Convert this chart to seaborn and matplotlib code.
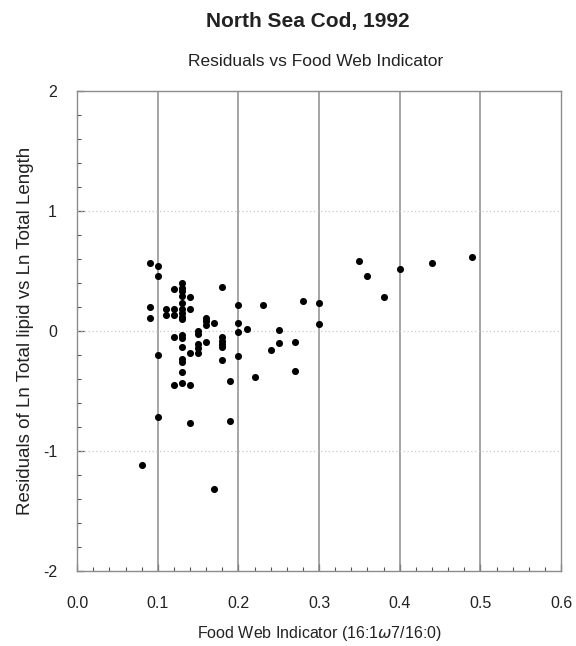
import numpy as np
import pandas as pd
import matplotlib
matplotlib.use("Agg")
import matplotlib.pyplot as plt
from matplotlib.ticker import MultipleLocator
import seaborn as sns

# values
fwi = [0.08, 0.09, 0.09, 0.09,
       0.10, 0.10, 0.10, 0.10,
       0.11, 0.11,
       0.12, 0.12, 0.12, 0.12, 0.12,
       0.13, 0.13, 0.13, 0.13, 0.13, 0.13, 0.13, 0.13, 0.13, 0.13,
       0.13, 0.13, 0.13, 0.13, 0.13, 0.13,
       0.14, 0.14, 0.14, 0.14, 0.14,
       0.15, 0.15, 0.15, 0.15, 0.15,
       0.16, 0.16, 0.16, 0.16,
       0.17, 0.17,
       0.18, 0.18, 0.18, 0.18, 0.18, 0.18,
       0.19, 0.19,
       0.20, 0.20, 0.20, 0.20,
       0.21, 0.22, 0.23, 0.24, 0.25, 0.25, 0.27, 0.27, 0.28,
       0.30, 0.30,
       0.35, 0.36, 0.38, 0.40, 0.44, 0.49]
resid = [-1.12, 0.57, 0.20, 0.11,
         0.54, 0.46, -0.20, -0.72,
         0.185, 0.13,
         0.35, 0.185, 0.13, -0.05, -0.45,
         0.40, 0.36, 0.33, 0.29, 0.235, 0.185, 0.15, 0.12, 0.10, -0.03,
         -0.06, -0.135, -0.23, -0.26, -0.34, -0.43,
         0.285, 0.185, -0.18, -0.45, -0.77,
         0.0, -0.025, -0.11, -0.145, -0.18,
         0.108, 0.083, 0.05, -0.09,
         0.07, -1.32,
         0.37, -0.05, -0.08, -0.11, -0.135, -0.24,
         -0.415, -0.75,
         0.215, 0.066, -0.01, -0.21,
         0.02, -0.38, 0.22, -0.16, 0.01, -0.10, -0.09, -0.33, 0.25,
         0.23, 0.06,
         0.58, 0.46, 0.28, 0.52, 0.565, 0.62]

x_ticks = [0.0, 0.1, 0.2, 0.3, 0.4, 0.5, 0.6]
x_labels = ["0.0", "0.1", "0.2", "0.3", "0.4", "0.5", "0.6"]
y_ticks = [-2, -1, 0, 1, 2]
y_labels = ["-2", "-1", "0", "1", "2"]

df = pd.DataFrame({"fwi": fwi, "resid": resid})

sns.set_style("white")
plt.rcParams['font.family'] = ['Liberation Sans', 'DejaVu Sans']

fig = plt.figure(figsize=(5.76, 6.46), dpi=100)
ax = fig.add_axes([0.134, 0.116, 0.84, 0.743])

# vertical grid solid, horizontal faint dotted
for xv in x_ticks[1:-1]:
    ax.axvline(xv, color="#8c8c8c", lw=1.1, zorder=1)
for yv in y_ticks[1:-1]:
    ax.axhline(yv, color="#c8c8c8", lw=0.9, ls=(0, (1, 2)), zorder=1)

sns.scatterplot(data=df, x="fwi", y="resid", color="black", s=26,
                edgecolor="black", linewidth=0, ax=ax, zorder=3)

ax.set_xlim(0, 0.6)
ax.set_ylim(-2, 2)
ax.set_xticks(x_ticks)
ax.set_xticklabels(x_labels)
ax.set_yticks(y_ticks)
ax.set_yticklabels(y_labels)
ax.xaxis.set_minor_locator(MultipleLocator(0.02))
ax.yaxis.set_minor_locator(MultipleLocator(0.2))

ax.tick_params(which="both", direction="in", color="#555555",
               bottom=True, left=True, top=False, right=False,
               labelsize=11.5, labelcolor="#222222")
ax.tick_params(which="major", length=5, width=0.9)
ax.tick_params(which="minor", length=3, width=0.8)
ax.tick_params(axis="x", which="major", pad=18)
ax.tick_params(axis="y", which="major", pad=14.5)

for sp in ax.spines.values():
    sp.set_color("#8c8c8c")
    sp.set_linewidth(1.0)

ax.set_xlabel("Food Web Indicator (16:1$\\omega$7/16:0)", fontsize=11.5,
              color="#222222", labelpad=9)
ax.set_ylabel("Residuals of Ln Total lipid vs Ln Total Length", fontsize=13.5,
              color="#222222", labelpad=6)

fig.text(0.535, 0.966, "North Sea Cod, 1992", ha="center", va="center",
         fontsize=15, fontweight="bold", color="#222222")
fig.text(0.548, 0.905, "Residuals vs Food Web Indicator", ha="center",
         va="center", fontsize=12.5, color="#222222")

fig.savefig("out.png", dpi=100)
